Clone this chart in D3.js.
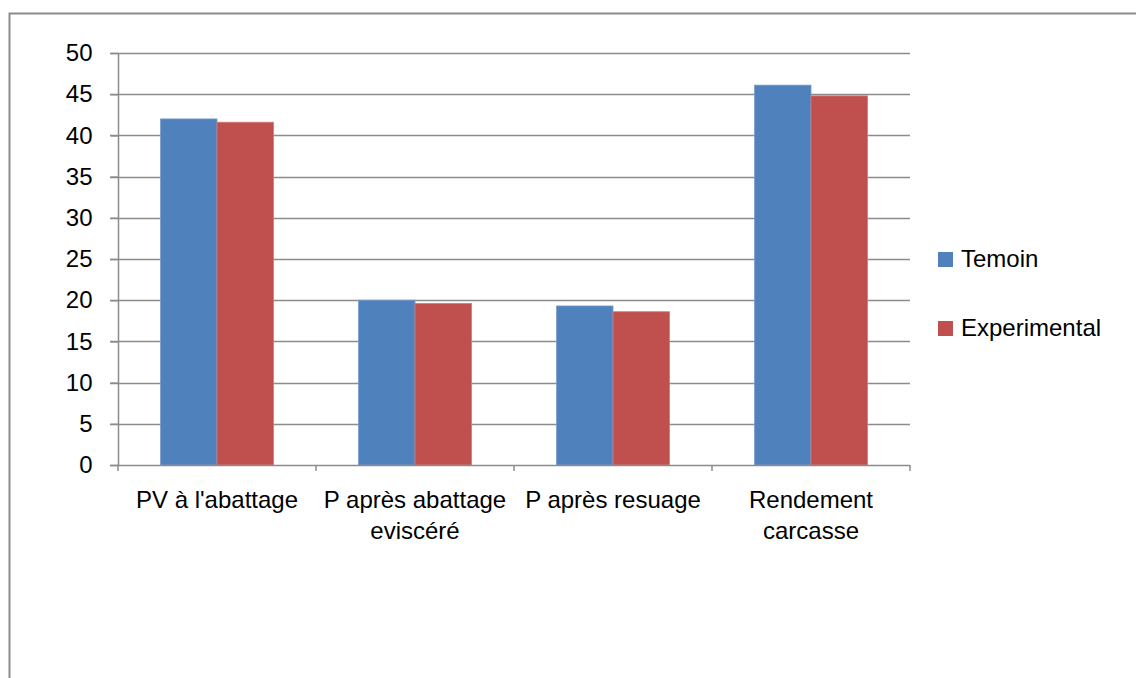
<!DOCTYPE html>
<html>
<head>
<meta charset="utf-8">
<script src="https://cdn.jsdelivr.net/npm/d3@7"></script>
<style>
body { margin: 0; background: #fff; }
svg text { font-family: "Liberation Sans", Arial, sans-serif; fill: #000; }
</style>
</head>
<body>
<svg id="chart" width="1136" height="678"></svg>
<script>
var categories = [["PV à l'abattage"], ["P après abattage", "eviscéré"], ["P après resuage"], ["Rendement", "carcasse"]];
var seriesNames = ["Temoin", "Experimental"];
var temoin = [42.0, 20.0, 19.3, 46.1];
var experimental = [41.6, 19.6, 18.6, 44.8];
var yTicks = [0, 5, 10, 15, 20, 25, 30, 35, 40, 45, 50];
var colors = ["#4F81BD", "#C0504D"];

var svg = d3.select("#chart");
var fontSize = "24px";

// outer frame (only left and top visible)
svg.append("path")
	.attr("d", "M9.5,678 L9.5,13.5 L1136,13.5")
	.style("fill", "none")
	.style("stroke", "#8c8c8c")
	.style("stroke-width", 2);

var plotLeft = 118, plotRight = 910, plotTop = 53, plotBottom = 465;

var y = d3.scaleLinear().domain([0, 50]).range([plotBottom, plotTop]);
var x = d3.scaleBand().domain(d3.range(categories.length)).range([plotLeft, plotRight]);
var barW = 56.5;

// gridlines
svg.append("g").selectAll("line")
	.data(yTicks.filter(function (d) { return d > 0; }))
	.enter().append("line")
	.attr("x1", plotLeft - 8).attr("x2", plotRight)
	.attr("y1", function (d) { return Math.round(y(d)) + 0.5; })
	.attr("y2", function (d) { return Math.round(y(d)) + 0.5; })
	.style("stroke", "#8c8c8c").style("stroke-width", 1.5);

// bars
var data = [temoin, experimental];
data.forEach(function (vals, s) {
	svg.append("g").selectAll("rect")
		.data(vals)
		.enter().append("rect")
		.attr("x", function (d, i) { return x(i) + x.bandwidth() / 2 - barW + s * barW; })
		.attr("y", function (d) { return y(d); })
		.attr("width", barW)
		.attr("height", function (d) { return plotBottom - y(d); })
		.style("fill", colors[s])
		.style("stroke", s == 0 ? "#7a9ccc" : "#d07a77")
		.style("stroke-width", 0.8);
});

// axes
var yAxis = d3.axisLeft(y).tickValues(yTicks).tickSize(8).tickPadding(18);
var gy = svg.append("g").attr("transform", "translate(" + (plotLeft + 0.5) + ",0)").call(yAxis);
gy.select(".domain").style("stroke", "#8c8c8c").style("stroke-width", 1.5).attr("d", "M0," + plotTop + "V" + plotBottom);
gy.selectAll(".tick line").style("stroke", "#8c8c8c").style("stroke-width", 1.5);
gy.selectAll(".tick text").style("font-size", fontSize).style("fill", "#000")
	.style("font-family", "'Liberation Sans', Arial, sans-serif");

svg.append("line")
	.attr("x1", plotLeft - 8).attr("x2", plotRight)
	.attr("y1", plotBottom + 0.5).attr("y2", plotBottom + 0.5)
	.style("stroke", "#8c8c8c").style("stroke-width", 1.5);

// x ticks at category boundaries
svg.append("g").selectAll("line")
	.data(d3.range(categories.length + 1))
	.enter().append("line")
	.attr("x1", function (d) { return plotLeft + d * x.bandwidth(); })
	.attr("x2", function (d) { return plotLeft + d * x.bandwidth(); })
	.attr("y1", plotBottom).attr("y2", plotBottom + 6)
	.style("stroke", "#8c8c8c").style("stroke-width", 1.5);

// category labels
var lab = svg.append("g").selectAll("text")
	.data(categories)
	.enter().append("text")
	.attr("x", function (d, i) { return x(i) + x.bandwidth() / 2; })
	.attr("y", 508)
	.style("text-anchor", "middle")
	.style("font-size", fontSize);
lab.selectAll("tspan")
	.data(function (d) { return d; })
	.enter().append("tspan")
	.attr("x", function () { return d3.select(this.parentNode).attr("x"); })
	.attr("dy", function (d, i) { return i == 0 ? 0 : 31; })
	.text(function (d) { return d; });

// legend
var leg = svg.append("g").selectAll("g")
	.data(seriesNames)
	.enter().append("g")
	.attr("transform", function (d, i) { return "translate(938," + (252 + i * 69) + ")"; });
leg.append("rect")
	.attr("width", 15).attr("height", 15)
	.style("fill", function (d, i) { return colors[i]; });
leg.append("text")
	.attr("x", 23).attr("y", 15)
	.style("font-size", fontSize)
	.text(function (d) { return d; });
</script>
</body>
</html>
